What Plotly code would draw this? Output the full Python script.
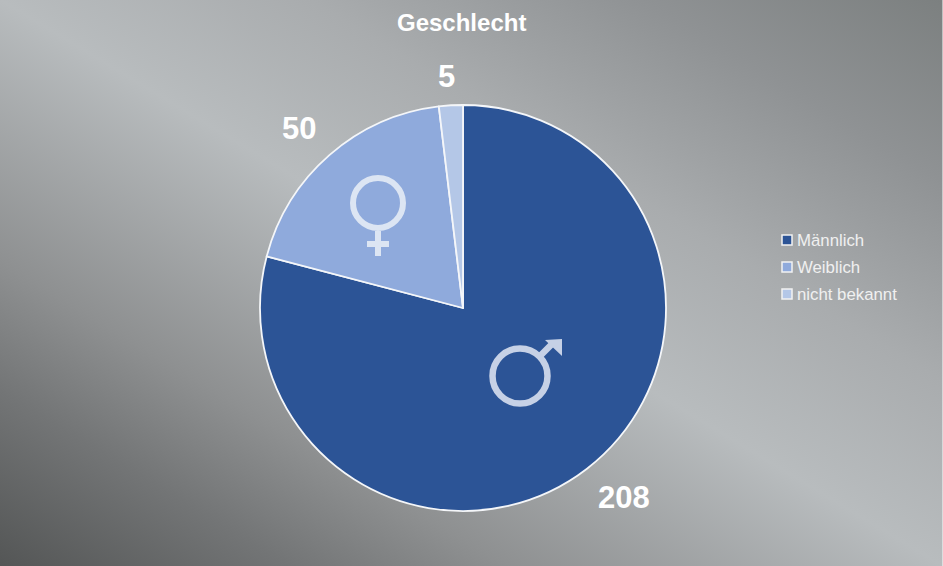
import base64
import plotly.graph_objects as go

categories = ["Männlich", "Weiblich", "nicht bekannt"]
values = [208, 50, 5]
colors = ["#2C5496", "#8FAADC", "#B4C7E7"]
title = "Geschlecht"

W, H = 943, 566
def px(x): return x / W
def py(y): return 1 - y / H

svg = f'''<svg xmlns="http://www.w3.org/2000/svg" width="{W}" height="{H}" viewBox="0 0 {W} {H}">
<defs>
<linearGradient id="a" gradientUnits="userSpaceOnUse" x1="221.7" y1="699" x2="721.3" y2="-133">
<stop offset="0" stop-color="#545656"/><stop offset="0.155" stop-color="#737576"/>
<stop offset="0.268" stop-color="#8E9091"/><stop offset="0.5" stop-color="#B8BCBE"/>
<stop offset="0.664" stop-color="#A9ACAE"/><stop offset="0.84" stop-color="#8F9294"/>
<stop offset="1" stop-color="#7C8080"/></linearGradient>
</defs>
<rect width="{W}" height="{H}" fill="url(#a)"/>
<rect x="{W-1}" width="1" height="{H}" fill="#FFFFFF" fill-opacity="0.5"/></svg>'''
bg = "data:image/svg+xml;base64," + base64.b64encode(svg.encode()).decode()

fig = go.Figure(go.Pie(
    labels=categories, values=values, sort=False, direction="clockwise", rotation=0,
    marker=dict(colors=colors, line=dict(color="#F4F6F9", width=1.8)),
    textinfo="none", hoverinfo="label+value", showlegend=False,
    domain=dict(x=[px(260), px(666)], y=[py(511), py(105)]),
))

shapes = []
FEM = "#DCE5F3"
MAL = "#C6D1E6"
def ring(cx, cy, r, w, col):
    shapes.append(dict(type="circle", xref="paper", yref="paper", x0=px(cx-r), x1=px(cx+r),
                       y0=py(cy+r), y1=py(cy-r), line=dict(color=col, width=w)))
def seg(x0, y0, x1, y1, w, col):
    shapes.append(dict(type="line", xref="paper", yref="paper", x0=px(x0), x1=px(x1),
                       y0=py(y0), y1=py(y1), line=dict(color=col, width=w)))
ring(378, 203, 25, 6, FEM)
seg(378, 231, 378, 256, 6, FEM)
seg(367, 244, 389, 244, 6, FEM)
ring(520, 376, 27.5, 6.5, MAL)
seg(539, 357, 552, 344, 6.5, MAL)
shapes.append(dict(type="path", xref="paper", yref="paper",
    path=f"M {px(545)} {py(340)} L {px(562)} {py(339)} L {px(562)} {py(356)} Z",
    fillcolor=MAL, line=dict(color=MAL, width=0)))

# legend swatches
leg_y = [240, 267, 294]
for c, y in zip(colors, leg_y):
    shapes.append(dict(type="rect", xref="paper", yref="paper", x0=px(782), x1=px(792),
                       y0=py(y+5), y1=py(y-5), fillcolor=c, line=dict(color="#F2F2F2", width=1.5)))

def label(text, x, y, size, color, xanchor="center"):
    return dict(text=text, x=px(x), y=py(y), xref="paper", yref="paper", showarrow=False,
                xanchor=xanchor, yanchor="middle",
                font=dict(size=size, color=color, family="Liberation Sans"))

ann = [label(f"<b>{title}</b>", 461.5, 22, 24, "#FFFFFF")]
for v, (x, y) in zip(values, [(624, 497), (299, 128), (446, 77)]):
    ann.append(label(f"<b>{v}</b>", x, y, 31, "#FFFFFF"))
for t, y in zip(categories, leg_y):
    ann.append(label(t, 795, y, 16.8, "#F0F0F0", "left"))

fig.update_layout(
    width=W, height=H, margin=dict(l=0, r=0, t=0, b=0), paper_bgcolor="#9A9C9E",
    images=[dict(source=bg, xref="paper", yref="paper", x=0, y=1, sizex=1, sizey=1,
                 sizing="stretch", xanchor="left", yanchor="top", layer="below")],
    shapes=shapes, annotations=ann,
)
fig.write_html("out.html", config=dict(displayModeBar=False),
               post_script="document.body.style.margin='0';")
